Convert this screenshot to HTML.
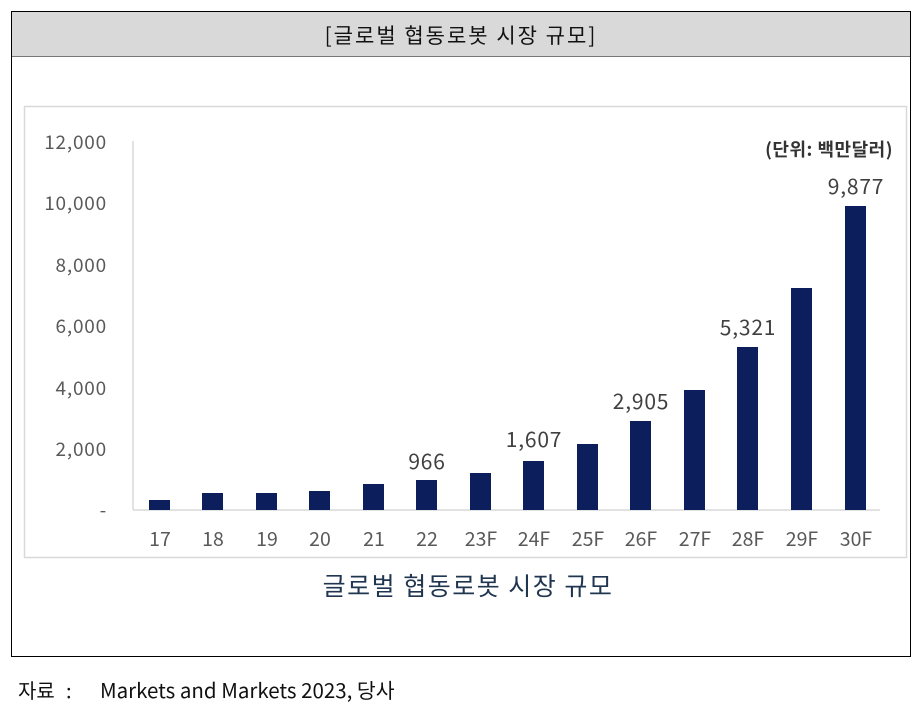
<!DOCTYPE html>
<html><head><meta charset="utf-8"><style>
body{margin:0;background:#fff;width:921px;height:705px;position:relative;overflow:hidden;font-family:"Liberation Sans","Noto Sans CJK KR",sans-serif}
</style></head><body>
<svg width="921" height="705" style="position:absolute;left:0;top:0">
<rect x="11.5" y="11.5" width="899" height="645" fill="#fff" stroke="#000" stroke-width="1"/>
<rect x="12" y="12" width="898" height="44" fill="#d9d9d9"/>
<line x1="12" y1="56.5" x2="910" y2="56.5" stroke="#777" stroke-width="1"/>
<text x="461" y="43" text-anchor="middle" font-size="21" letter-spacing="2" fill="#111" font-family="'Noto Sans CJK KR',sans-serif">[글로벌 협동로봇 시장 규모]</text>
<rect x="24.5" y="106.5" width="882" height="451" fill="#fff" stroke="#d9d9d9" stroke-width="1.5"/>
<line x1="133" y1="141" x2="133" y2="510" stroke="#d9d9d9" stroke-width="1.5"/>
<line x1="133" y1="510" x2="880" y2="510" stroke="#d9d9d9" stroke-width="1.5"/>
<g font-size="19" letter-spacing="0.8" fill="#595959" text-anchor="end" font-family="'Noto Sans CJK KR','Liberation Sans',sans-serif">
<text x="107" y="149">12,000</text><text x="107" y="210">10,000</text><text x="107" y="272">8,000</text><text x="107" y="333">6,000</text><text x="107" y="395">4,000</text><text x="107" y="456">2,000</text><text x="107" y="517">-</text>
</g>
<text x="893" y="156" text-anchor="end" font-size="18" letter-spacing="0.5" font-weight="600" fill="#333" font-family="'Noto Sans CJK KR',sans-serif">(단위: 백만달러)</text>
<g fill="#0c1f5c">
<rect x="149" y="500" width="21" height="10"/>
<rect x="202" y="493" width="21" height="17"/>
<rect x="256" y="493" width="21" height="17"/>
<rect x="309" y="491" width="21" height="19"/>
<rect x="363" y="484" width="21" height="26"/>
<rect x="416" y="480" width="21" height="30"/>
<rect x="470" y="473" width="21" height="37"/>
<rect x="523" y="461" width="21" height="49"/>
<rect x="577" y="444" width="21" height="66"/>
<rect x="630" y="421" width="21" height="89"/>
<rect x="684" y="390" width="21" height="120"/>
<rect x="737" y="347" width="21" height="163"/>
<rect x="791" y="288" width="21" height="222"/>
<rect x="845" y="206" width="21" height="304"/>
</g>
<g font-size="21" letter-spacing="0.8" fill="#404040" text-anchor="middle" font-family="'Noto Sans CJK KR','Liberation Sans',sans-serif">
<text x="427" y="469">966</text><text x="534" y="447">1,607</text><text x="641" y="409">2,905</text><text x="748" y="335">5,321</text><text x="856" y="194">9,877</text>
</g>
<g font-size="19.5" fill="#595959" text-anchor="middle" font-family="'Noto Sans CJK KR','Liberation Sans',sans-serif">
<text x="160" y="546">17</text><text x="213" y="546">18</text><text x="267" y="546">19</text><text x="320" y="546">20</text><text x="374" y="546">21</text><text x="427" y="546">22</text><text x="481" y="546">23F</text><text x="534" y="546">24F</text><text x="588" y="546">25F</text><text x="641" y="546">26F</text><text x="695" y="546">27F</text><text x="748" y="546">28F</text><text x="802" y="546">29F</text><text x="856" y="546">30F</text>
</g>
<text x="468" y="595" text-anchor="middle" font-size="25" letter-spacing="1.5" fill="#1f3550" font-family="'Noto Sans CJK KR',sans-serif">글로벌 협동로봇 시장 규모</text>
<text x="18" y="698" font-size="20" fill="#111" font-family="'Noto Sans CJK KR',sans-serif">자료</text>
<text x="66" y="698" font-size="20" fill="#111" font-family="'Noto Sans CJK KR',sans-serif">:</text>
<text x="100" y="698" font-size="20.5" fill="#111" font-family="'Noto Sans CJK KR',sans-serif">Markets and Markets 2023, 당사</text>
</svg>
</body></html>
